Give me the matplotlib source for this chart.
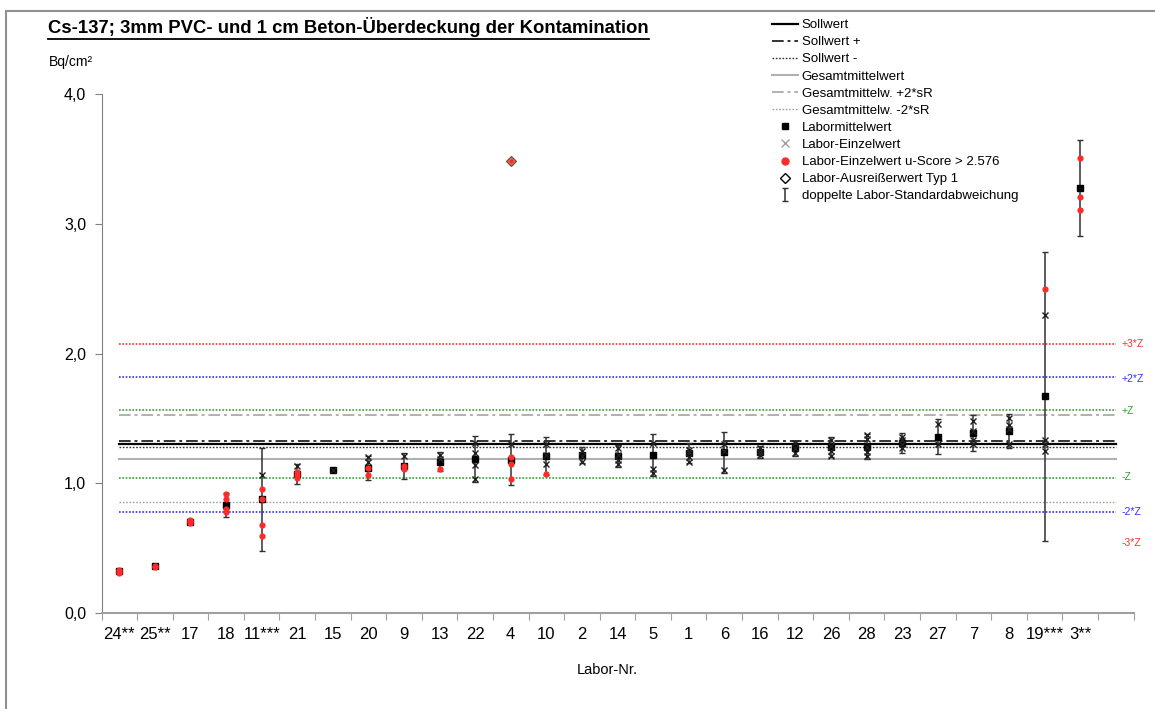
import matplotlib
matplotlib.use("Agg")
import matplotlib.pyplot as plt
import numpy as np
from matplotlib.lines import Line2D
from matplotlib.patches import Rectangle

plt.rcParams['font.family'] = ['Liberation Sans', 'DejaVu Sans']

# ---------------- data ----------------
labs = ["24**", "25**", "17", "18", "11***", "21", "15", "20", "9", "13", "22", "4",
        "10", "2", "14", "5", "1", "6", "16", "12", "26", "28", "23", "27", "7", "8",
        "19***", "3**"]

lab_mean = [0.32, 0.36, 0.705, 0.832, 0.875, 1.07, 1.10, 1.117, 1.133, 1.164, 1.187, 1.18,
            1.21, 1.218, 1.21, 1.218, 1.233, 1.238, 1.24, 1.27, 1.28, 1.28, 1.31, 1.36, 1.39,
            1.40, 1.67, 3.275]

lab_2sd = [0.015, 0.012, 0.02, 0.095, 0.395, 0.077, 0.01, 0.095, 0.10, 0.073, 0.178, 0.197,
           0.147, 0.065, 0.083, 0.162, 0.074, 0.157, 0.044, 0.058, 0.078, 0.096, 0.078, 0.138,
           0.139, 0.13, 1.115, 0.372]

single_ok = [[], [], [], [], [1.064], [1.13], [1.10], [1.20, 1.16], [1.21], [1.22, 1.19],
             [1.31, 1.23, 1.14, 1.03], [1.30], [1.30, 1.22, 1.15], [1.25, 1.21, 1.16],
             [1.27, 1.22, 1.18, 1.15], [1.31, 1.11, 1.08], [1.26, 1.23, 1.20, 1.16],
             [1.30, 1.25, 1.10], [1.27, 1.24, 1.22], [1.31, 1.27, 1.23],
             [1.33, 1.29, 1.25, 1.21], [1.37, 1.34, 1.28, 1.24, 1.21],
             [1.36, 1.33, 1.30, 1.27], [1.46, 1.30], [1.48, 1.40, 1.33, 1.30],
             [1.50, 1.45, 1.42, 1.30], [2.30, 1.33, 1.30, 1.25], []]

single_red = [[0.31, 0.32, 0.33], [0.355, 0.365], [0.69, 0.71, 0.72], [0.92, 0.88, 0.80, 0.78],
              [0.955, 0.88, 0.68, 0.59], [1.09, 1.06, 1.04], [], [1.12, 1.06], [1.11, 1.13],
              [1.11], [], [1.20, 1.148, 1.03], [1.07], [], [], [], [], [], [], [], [], [],
              [], [], [], [], [2.50], [3.507, 3.206, 3.106]]

outlier_lab = "4"
outlier_val = 3.48

sollwert = 1.300
sollwert_plus = 1.323
sollwert_minus = 1.277
gesamtmittel = 1.189
gesamt_plus2sR = 1.523
gesamt_minus2sR = 0.853

z_lines = [2.073, 1.819, 1.562, 1.038, 0.776]
z_colors = ["#ff3030", "#3030ff", "#30a030", "#30a030", "#3030ff"]
z_labels = ["+3*Z", "+2*Z", "+Z", "-Z", "-2*Z", "-3*Z"]
z_label_pos = [2.073, 1.80, 1.555, 1.045, 0.78, 0.54]
z_label_colors = ["#ff3030", "#3030ff", "#30a030", "#30a030", "#3030ff", "#ff3030"]

yticks = [0, 1, 2, 3, 4]
ytick_labels = ["0,0", "1,0", "2,0", "3,0", "4,0"]

# ---------------- figure ----------------
W, H = 1155, 709
fig = plt.figure(figsize=(W / 100, H / 100), dpi=100)
fig.patch.set_facecolor("white")

# outer frame
fig.patches.append(Rectangle((5.5 / W, -0.1), 1.2, 1 - 10.5 / H + 0.1,
                             transform=fig.transFigure, fill=False,
                             edgecolor="#909090", lw=1.5, zorder=0))

ax = fig.add_axes([101.5 / W, 1 - 613 / H, 1032 / W, 519 / H])
n = len(labs)
xs = np.arange(n)
ax.set_xlim(-0.5, n + 0.5)
ax.set_ylim(0, 4)

x0, x1 = 0, n
# reference lines
l_soll, = ax.plot([x0, x1], [sollwert] * 2, color="black", lw=1.6, label="Sollwert")
l_sp, = ax.plot([x0, x1], [sollwert_plus] * 2, color="#333333", lw=1.4,
                linestyle=(0, (6, 2, 1.5, 2)), label="Sollwert +")
l_sm, = ax.plot([x0, x1], [sollwert_minus] * 2, color="#333333", lw=1.0,
                linestyle=(0, (1.2, 1.2)), label="Sollwert -")
l_g, = ax.plot([x0, x1], [gesamtmittel] * 2, color="#b0b0b0", lw=1.5, label="Gesamtmittelwert")
l_gp, = ax.plot([x0, x1], [gesamt_plus2sR] * 2, color="#b0b0b0", lw=1.4,
                linestyle=(0, (6, 2, 1.5, 2)), label="Gesamtmittelw. +2*sR")
l_gm, = ax.plot([x0, x1], [gesamt_minus2sR] * 2, color="#a0a0a0", lw=1.0,
                linestyle=(0, (1.2, 1.2)), label="Gesamtmittelw. -2*sR")

for v, c in zip(z_lines, z_colors):
    ax.plot([x0, x1], [v, v], color=c, lw=1.2, linestyle=(0, (1, 1)))
for lbl, v, c in zip(z_labels, z_label_pos, z_label_colors):
    ax.text(x1 + 0.15, v, lbl, color=c, fontsize=7.5, va="center", ha="left")

# error bars
eb = ax.errorbar(xs, lab_mean, yerr=lab_2sd, fmt="none", ecolor="#303030",
                 elinewidth=1.1, capsize=2.5, capthick=1.0, zorder=3)

# means
ax.plot(xs, lab_mean, "s", color="black", ms=4.5, ls="none", zorder=4)

# single values
sx = [i for i, vals in enumerate(single_ok) for _ in vals]
sy = [v for vals in single_ok for v in vals]
ax.plot(sx, sy, "x", color="#202020", ms=4.5, mew=1.0, ls="none", zorder=5)

rx = [i for i, vals in enumerate(single_red) for _ in vals]
ry = [v for vals in single_red for v in vals]
ax.plot(rx, ry, "o", color="#ff2a2a", mec="none", ms=4.5, ls="none", zorder=6)

oi = labs.index(outlier_lab)
ax.plot([oi], [outlier_val], "D", mfc="#e8704a", mec="#505050", ms=5.5, mew=0.8, zorder=6)
ax.plot([oi], [outlier_val], "o", color="#ff2a2a", mec="none", ms=3, zorder=7)

# axes styling
for s in ["top", "right"]:
    ax.spines[s].set_visible(False)
ax.spines["left"].set_color("#808080")
ax.spines["bottom"].set_color("#a0a0a0")
ax.spines["bottom"].set_linewidth(1.5)
ax.set_yticks(yticks)
ax.set_yticklabels(ytick_labels, fontsize=11.5)
ax.tick_params(axis="y", length=5, color="#808080", pad=6)
ax.set_xticks(np.arange(-0.5, n + 1, 1))
ax.set_xticklabels([])
ax.tick_params(axis="x", which="major", length=5, color="#a0a0a0")
ax.set_xticks(xs, minor=True)
ax.set_xticklabels(labs, minor=True, fontsize=12)
ax.tick_params(axis="x", which="minor", length=0, pad=10)

fig.text(607 / W, 1 - 670 / H, "Labor-Nr.", fontsize=10.5, ha="center", va="center")
fig.text(49 / W, 1 - 62 / H, "Bq/cm²", fontsize=10, ha="left", va="center")

title = fig.text(48 / W, 1 - 27 / H,
                 "Cs-137; 3mm PVC- und 1 cm Beton-Überdeckung der Kontamination",
                 fontsize=13.3, fontweight="bold", ha="left", va="center")

# legend with proxies
h_mean = Line2D([], [], marker="s", color="black", ms=4.5, ls="none")
h_x = Line2D([], [], marker="x", color="#a0a0a0", ms=6, mew=1.0, ls="none")
h_red = Line2D([], [], marker="o", color="#ff2a2a", mec="#ff2a2a", ms=5, ls="none")
h_out = Line2D([], [], marker="D", mfc="white", mec="black", ms=5, mew=1, ls="none")
handles = [l_soll, l_sp, l_sm, l_g, l_gp, l_gm, h_mean, h_x, h_red, h_out, eb]
labels = ["Sollwert", "Sollwert +", "Sollwert -", "Gesamtmittelwert",
          "Gesamtmittelw. +2*sR", "Gesamtmittelw. -2*sR", "Labormittelwert",
          "Labor-Einzelwert", "Labor-Einzelwert u-Score > 2.576",
          "Labor-Ausreißerwert Typ 1", "doppelte Labor-Standardabweichung"]
fig.legend(handles, labels, loc="upper left", bbox_to_anchor=(772 / W, 1 - 19 / H),
           frameon=False, fontsize=9.5, handlelength=2.0, handletextpad=0.25,
           labelspacing=0.37, borderpad=0, borderaxespad=0)

# underline title
fig.canvas.draw()
bb = title.get_window_extent(fig.canvas.get_renderer())
uy = (bb.y0 - 2) / H
fig.add_artist(Line2D([bb.x0 / W, bb.x1 / W], [uy, uy], color="black", lw=1.3,
                      transform=fig.transFigure))

fig.savefig("out.png", dpi=100)
